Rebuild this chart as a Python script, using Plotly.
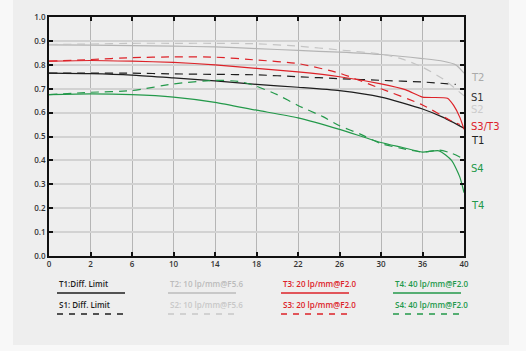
import plotly.graph_objects as go

# x positions are the equally spaced tick slots (labels below)
x_ticklabels = ["0", "2", "6", "10", "14", "18", "22", "26", "30", "36", "40"]
y_ticks = [0.0, 0.1, 0.2, 0.3, 0.4, 0.5, 0.6, 0.7, 0.8, 0.9, 1.0]

t1_x = [0, 1, 2, 3, 4, 5, 6, 7, 8, 9, 9.5, 10]
t1_y = [0.765, 0.763, 0.757, 0.745, 0.733, 0.718, 0.706, 0.692, 0.665, 0.615, 0.58, 0.535]

s1_x = [0, 1, 2, 3, 4, 5, 6, 7, 8, 9, 9.8]
s1_y = [0.765, 0.765, 0.765, 0.762, 0.76, 0.758, 0.75, 0.742, 0.735, 0.728, 0.718]

t2_x = [0, 1, 2, 3, 4, 5, 6, 7, 8, 9, 9.5, 9.8, 10]
t2_y = [0.883, 0.882, 0.88, 0.878, 0.875, 0.868, 0.86, 0.853, 0.843, 0.826, 0.815, 0.80, 0.765]

s2_x = [0, 1, 2, 3, 4, 5, 6, 7, 8, 8.5, 9, 9.5, 10]
s2_y = [0.885, 0.887, 0.89, 0.89, 0.89, 0.888, 0.878, 0.862, 0.845, 0.825, 0.79, 0.74, 0.67]

t3_x = [0, 1, 2, 3, 4, 5, 6, 7, 8, 8.6, 9, 9.6, 9.75, 9.9, 10]
t3_y = [0.815, 0.818, 0.815, 0.81, 0.80, 0.785, 0.77, 0.75, 0.72, 0.695, 0.665, 0.66, 0.63, 0.58, 0.53]

s3_x = [0, 1, 2, 3, 4, 5, 6, 7, 8, 9, 9.7, 9.9]
s3_y = [0.815, 0.822, 0.83, 0.833, 0.832, 0.82, 0.805, 0.765, 0.70, 0.632, 0.565, 0.55]

t4_x = [0, 1, 2, 3, 4, 5, 6, 7, 8, 8.5, 9, 9.4, 9.7, 9.9, 10]
t4_y = [0.675, 0.678, 0.675, 0.665, 0.643, 0.61, 0.578, 0.53, 0.475, 0.455, 0.435, 0.44, 0.40, 0.33, 0.265]

s4_x = [0, 1, 2, 3, 4, 4.6, 5, 5.5, 6, 6.6, 7, 7.5, 8, 8.5, 9, 9.4, 9.7, 9.95]
s4_y = [0.675, 0.685, 0.692, 0.72, 0.735, 0.73, 0.71, 0.675, 0.63, 0.583, 0.545, 0.51, 0.47, 0.45, 0.435, 0.443, 0.43, 0.41]

BLACK = "#1e1e1e"
GRAY_T = "#b4b4b4"
GRAY_S = "#c4c4c4"
RED = "#dd2228"
GREEN = "#23994a"

series = [
    ("T1", t1_x, t1_y, BLACK, "solid"),
    ("S1", s1_x, s1_y, BLACK, "dash"),
    ("T2", t2_x, t2_y, GRAY_T, "solid"),
    ("S2", s2_x, s2_y, GRAY_S, "dash"),
    ("T3", t3_x, t3_y, RED, "solid"),
    ("S3", s3_x, s3_y, RED, "dash"),
    ("T4", t4_x, t4_y, GREEN, "solid"),
    ("S4", s4_x, s4_y, GREEN, "dash"),
]

fig = go.Figure()
for name, xs, ys, col, dash in series:
    fig.add_trace(go.Scatter(x=xs, y=ys, mode="lines", name=name,
                             line=dict(color=col, width=1.2, dash="8px,6px" if dash == "dash" else "solid",
                                       shape="spline", smoothing=0.6),
                             showlegend=False, hoverinfo="skip"))

# end labels on the right
end_labels = [
    ("T2", 0.745, "#aaaaaa"),
    ("S1", 0.662, "#333333"),
    ("S2", 0.612, "#cccccc"),
    ("S3/T3", 0.54, RED),
    ("T1", 0.485, "#222222"),
    ("S4", 0.368, GREEN),
    ("T4", 0.213, GREEN),
]
annotations = []
for txt, yv, col in end_labels:
    annotations.append(dict(x=1, xref="paper", y=yv, yref="y", text=txt, showarrow=False,
                            xanchor="left", xshift=5, font=dict(family="DejaVu Sans", size=10, color=col)))

# legend (manual, 4 columns x 2 rows)
PW, PH = 415.0, 239.0
def px_x(px):
    return (px - 49) / PW
def px_y(py):
    return (256 - py) / PH

legend_items = [
    ("T1:Diff. Limit", BLACK, "solid", 57, 0),
    ("T2: 10 lp/mm@F5.6", "#bbbbbb", "solid", 168, 0),
    ("T3: 20 lp/mm@F2.0", RED, "solid", 281, 0),
    ("T4: 40 lp/mm@F2.0", GREEN, "solid", 393, 0),
    ("S1: Diff. Limit", BLACK, "dash", 57, 1),
    ("S2: 10 lp/mm@F5.6", "#c8c8c8", "dash", 168, 1),
    ("S3: 20 lp/mm@F2.0", RED, "dash", 281, 1),
    ("S4: 40 lp/mm@F2.0", GREEN, "dash", 393, 1),
]
shapes = [dict(type="rect", xref="paper", yref="paper", x0=px_x(13), x1=px_x(509),
               y0=px_y(345), y1=px_y(-5), fillcolor="#eeeeee", line=dict(width=0), layer="below")]
for txt, col, dash, x0, row in legend_items:
    ty = 283 if row == 0 else 304
    ly = 293 if row == 0 else 314
    annotations.append(dict(x=px_x(x0), xref="paper", y=px_y(ty), yref="paper", text=txt,
                            showarrow=False, xanchor="left", yanchor="middle",
                            font=dict(family="Open Sans", size=8, color=col, weight=600)))
    shapes.append(dict(type="line", xref="paper", yref="paper", x0=px_x(x0), x1=px_x(x0 + 68),
                       y0=px_y(ly), y1=px_y(ly),
                       line=dict(color=col, width=1.3, dash="6px,6px" if dash == "dash" else "solid")))

fig.update_layout(
    width=526, height=351,
    margin=dict(l=49, r=62, t=17, b=95),
    paper_bgcolor="#f8f8f8",
    plot_bgcolor="#eeeeee",
    annotations=annotations,
    shapes=shapes,
    showlegend=False,
)
fig.update_xaxes(range=[0, 10], tickvals=list(range(11)), ticktext=x_ticklabels,
                 showgrid=True, gridcolor="#b5b5b5", gridwidth=1,
                 showline=True, linecolor="#111111", linewidth=1.5, mirror="ticks",
                 ticks="inside", ticklen=4, tickwidth=1.5, tickcolor="#111111",
                 tickfont=dict(family="Open Sans", size=8, color="#333333", weight=600),
                 zeroline=False, fixedrange=True)
fig.update_yaxes(range=[0, 1.0], tickvals=y_ticks, ticktext=[f"{v:.1f}" for v in y_ticks],
                 showgrid=True, gridcolor="#d2d2d2", gridwidth=1.5,
                 showline=True, linecolor="#111111", linewidth=1.5, mirror="ticks",
                 ticks="inside", ticklen=4, tickwidth=1.5, tickcolor="#111111",
                 tickfont=dict(family="Open Sans", size=8, color="#333333", weight=600),
                 zeroline=False, fixedrange=True)

fig.write_html("out.html")
